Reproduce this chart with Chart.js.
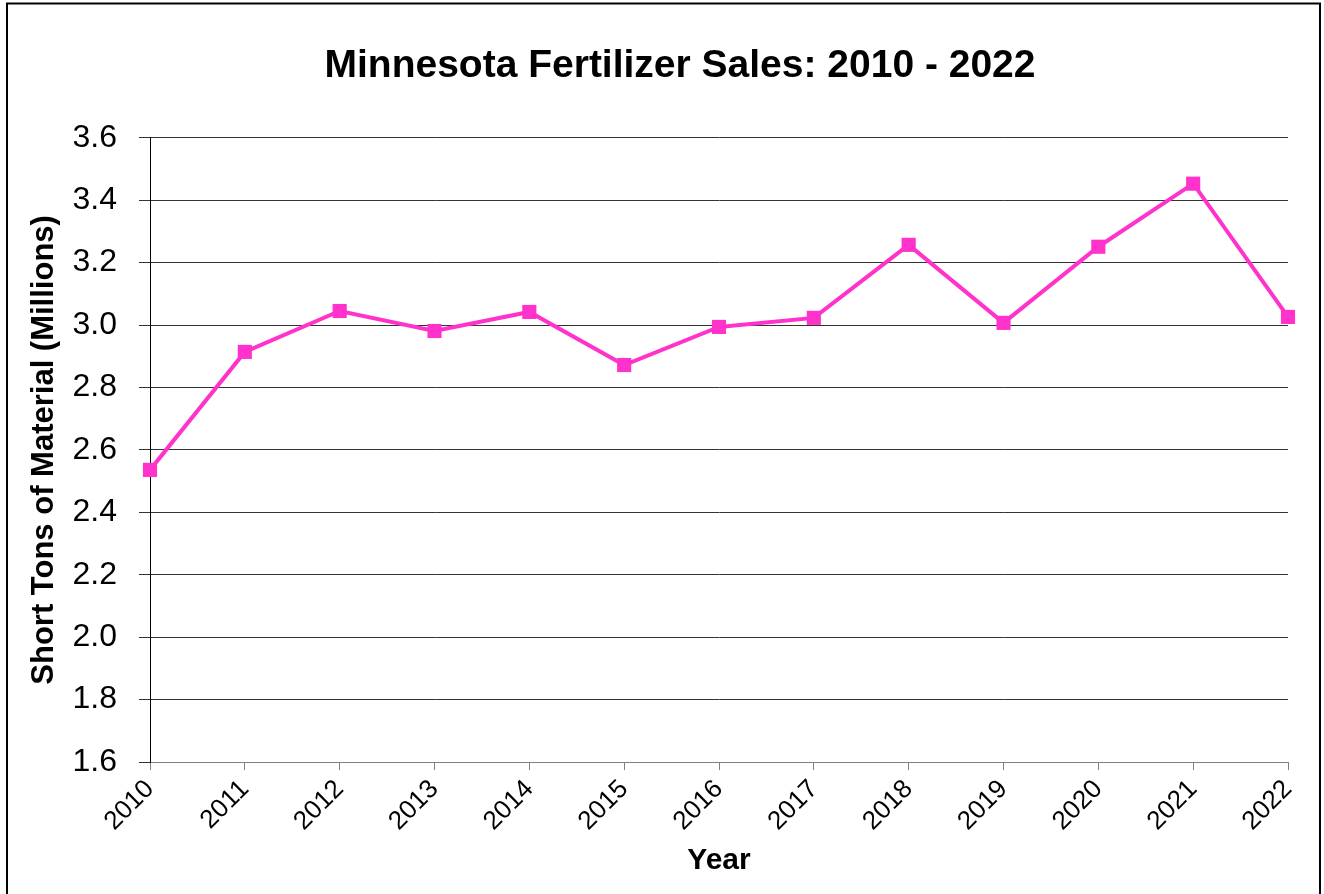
<!DOCTYPE html>
<html>
<head>
<meta charset="utf-8">
<title>Minnesota Fertilizer Sales</title>
<script src="https://cdn.jsdelivr.net/npm/chart.js@4.4.0/dist/chart.umd.min.js"></script>
<style>
  html, body { margin: 0; padding: 0; background: #fff; overflow: hidden; }
</style>
</head>
<body>
<canvas id="salesChart" width="1324" height="894"></canvas>
<script>
// data
const years = ['2010', '2011', '2012', '2013', '2014', '2015', '2016',
               '2017', '2018', '2019', '2020', '2021', '2022'];
const salesMillions = [2.536, 2.914, 3.045, 2.981, 3.042, 2.872, 2.994,
                       3.023, 3.257, 3.007, 3.251, 3.453, 3.026];
const yTickValues = [1.6, 1.8, 2.0, 2.2, 2.4, 2.6, 2.8, 3.0, 3.2, 3.4, 3.6];

const FONT = "'Liberation Sans', Arial, Helvetica, sans-serif";

// white page + thin frame around the picture
const framePlugin = {
    id: 'frame',
    beforeDraw(chart) {
        const ctx = chart.ctx;
        ctx.save();
        ctx.fillStyle = '#ffffff';
        ctx.fillRect(0, 0, chart.width, chart.height);
        ctx.restore();
    },
    afterDraw(chart) {
        const ctx = chart.ctx;
        ctx.save();
        ctx.strokeStyle = '#000000';
        ctx.lineWidth = 2;
        ctx.strokeRect(7, 3.5, 1313, 1000);
        ctx.restore();
    }
};

const ctx = document.getElementById('salesChart').getContext('2d');
const salesChart = new Chart(ctx, {
    type: 'line',
    data: {
        labels: years,
        datasets: [{
            label: 'Sales',
            data: salesMillions,
            borderColor: '#FF33CC',
            backgroundColor: '#FF33CC',
            borderWidth: 4,
            tension: 0,
            pointStyle: 'rect',
            pointRadius: 10,
            pointBorderWidth: 0,
            pointBackgroundColor: '#FF33CC',
            pointHoverRadius: 10,
            clip: false
        }]
    },
    options: {
        responsive: false,
        animation: false,
        events: [],
        // left padding keeps the main title centred where the original has it;
        // the y title is pulled back out to the left edge with a negative padding
        layout: {
            padding: { left: 72, right: 36, top: 0, bottom: 0 }
        },
        scales: {
            x: {
                offset: false,
                grid: {
                    drawOnChartArea: false,
                    drawTicks: true,
                    tickLength: 8,
                    color: '#808080'
                },
                border: { display: true, color: '#808080', width: 1 },
                ticks: {
                    autoSkip: false,
                    minRotation: 45,
                    maxRotation: 45,
                    padding: 4,
                    color: '#000',
                    font: { family: FONT, size: 26 }
                },
                title: {
                    display: true,
                    text: 'Year',
                    color: '#000',
                    padding: { top: 0, bottom: 15 },
                    font: { family: FONT, size: 30, weight: 'bold' }
                },
                afterFit(scale) { scale.height = 132; }
            },
            y: {
                min: 1.6,
                max: 3.6,
                afterBuildTicks(scale) {
                    scale.ticks = yTickValues.map(v => ({ value: v }));
                },
                grid: {
                    drawOnChartArea: true,
                    drawTicks: true,
                    tickLength: 11,
                    color: '#333333'
                },
                border: { display: true, color: '#000000', width: 1 },
                ticks: {
                    padding: 22,
                    color: '#000',
                    font: { family: FONT, size: 32 },
                    callback: v => Number(v).toFixed(1)
                },
                title: {
                    display: true,
                    text: 'Short Tons of Material (Millions)',
                    color: '#000',
                    padding: { top: -46, bottom: 0 },
                    font: { family: FONT, size: 31, weight: 'bold' }
                },
                afterFit(scale) { scale.width = 78; }
            }
        },
        plugins: {
            legend: { display: false },
            tooltip: { enabled: false },
            title: {
                display: true,
                text: 'Minnesota Fertilizer Sales: 2010 - 2022',
                color: '#000',
                padding: { top: 43, bottom: 48 },
                font: { family: FONT, size: 39, weight: 'bold' }
            }
        }
    },
    plugins: [framePlugin]
});
</script>
</body>
</html>
